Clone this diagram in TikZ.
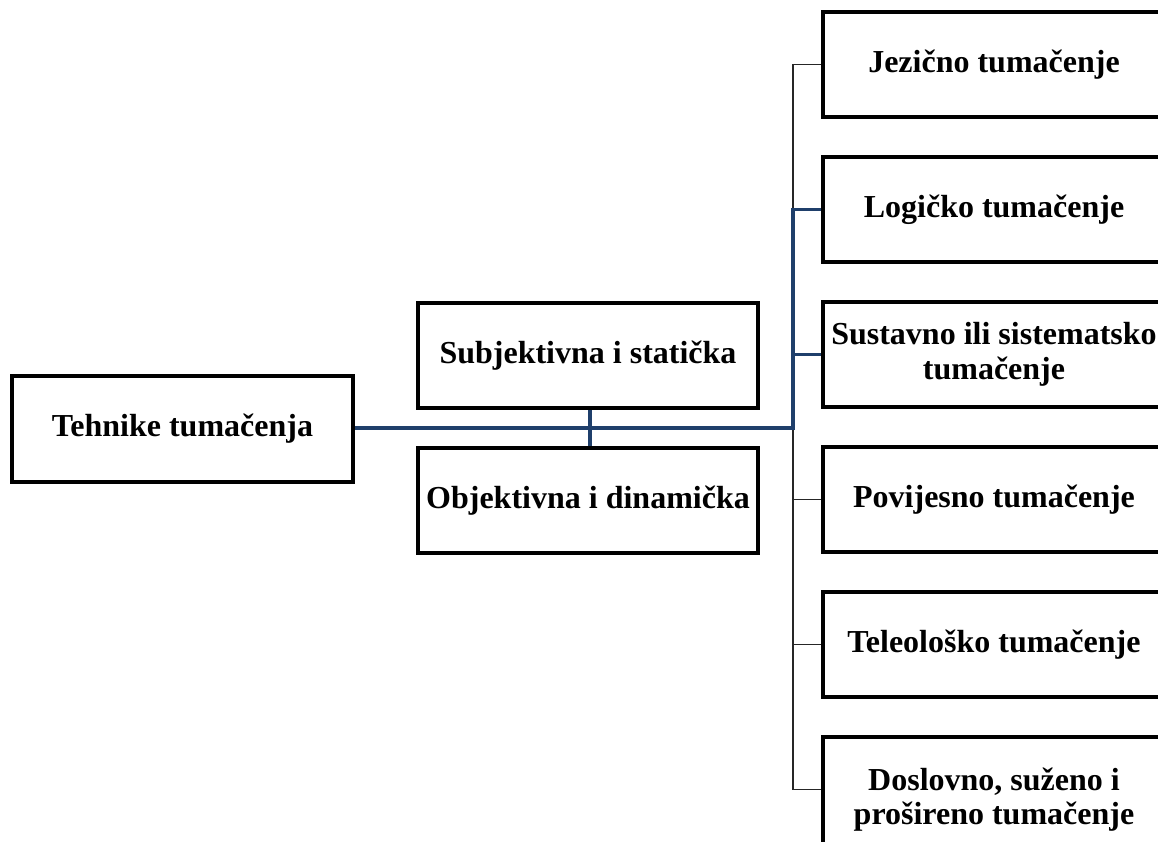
\documentclass[tikz,border=0pt]{standalone}
\usepackage{fontspec}
\setmainfont{Liberation Serif}
\definecolor{navy}{HTML}{1F3F6B}
\definecolor{thin}{HTML}{262626}
\begin{document}
\begin{tikzpicture}[x=0.75pt,y=-0.75pt,
  box/.style={draw=black,line width=3pt,fill=white,rectangle,align=center,
    font=\fontsize{24}{26}\selectfont\bfseries,inner sep=0pt},
  lbox/.style={box,minimum width=341*0.75pt,minimum height=106*0.75pt},
  mbox/.style={box,minimum width=340*0.75pt,minimum height=105*0.75pt},
  rbox/.style={box,minimum width=342*0.75pt,minimum height=105*0.75pt},
  thinline/.style={draw=thin,line width=1.1pt},
  blueline/.style={draw=navy,line width=2.4pt}]
\useasboundingbox (0,0) rectangle (1158,842);
\coordinate (j) at (793,428);
\coordinate (top) at (793,64.5);
\coordinate (bot) at (793,789.5);
% thin connectors
\draw[thinline] (top) -- (bot);
% nodes
\node[lbox] (teh) at (182.5,428.5) {Tehnike tumačenja};
\node[mbox] (sub) at (588,355.5) {Subjektivna i statička};
\node[mbox] (obj) at (588,500.5) {Objektivna i dinamička};
\node[rbox] (jez) at (994,64.5) {Jezično tumačenje};
\node[rbox] (log) at (994,209.5) {Logičko tumačenje};
\node[rbox] (sus) at (994,354.5) {Sustavno ili sistematsko\\tumačenje};
\node[rbox] (pov) at (994,499.5) {Povijesno tumačenje};
\node[rbox] (tel) at (994,644.5) {Teleološko tumačenje};
\node[rbox,minimum height=125*0.75pt] (dos) at (994,799.5) {Doslovno, suženo i\\prošireno tumačenje};
\draw[thinline] (top) -- (jez.west);
\draw[thinline] (j |- pov.west) -- (pov.west);
\draw[thinline] (j |- tel.west) -- (tel.west);
\draw[thinline] (bot) -- (bot -| dos.west);
% blue connectors
\draw[blueline] (teh.east |- j) -- (j) |- (log.west);
\draw[blueline] (j |- sus.west) -- (sus.west);
\draw[blueline] (sub.south -| 590,0) -- (obj.north -| 590,0);
\end{tikzpicture}
\end{document}
